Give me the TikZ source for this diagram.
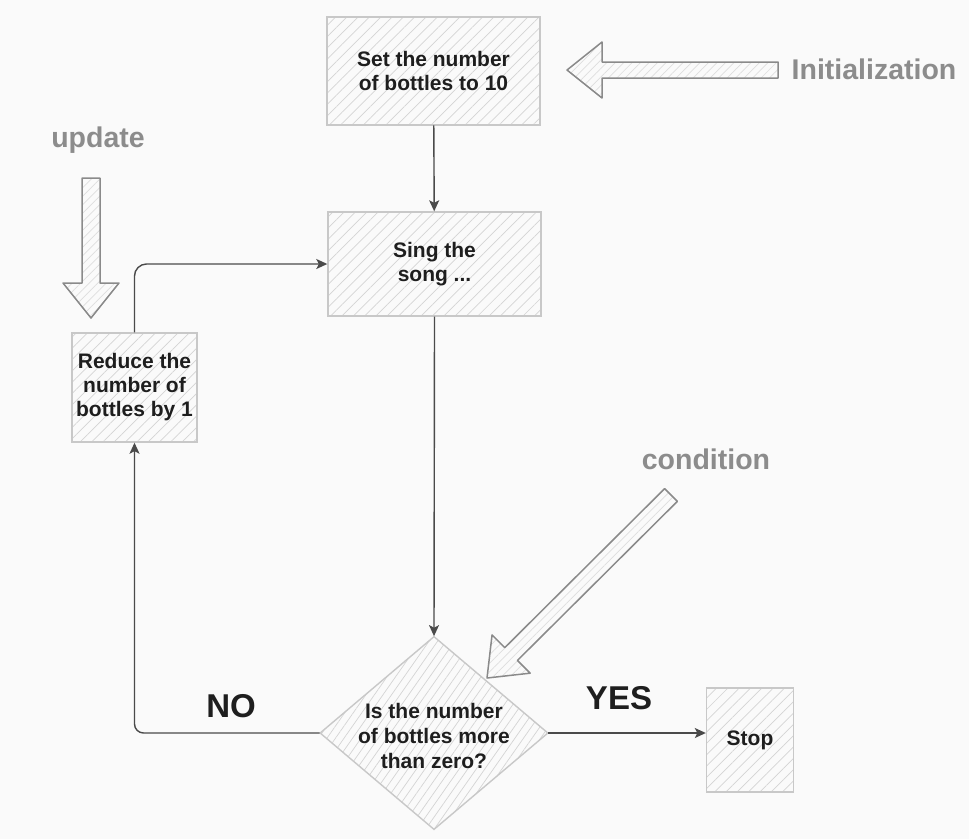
\documentclass[tikz,border=0pt]{standalone}
\usepackage{fontspec}
\setmainfont{Liberation Sans}
\usetikzlibrary{arrows.meta,shapes.geometric,patterns.meta,calc}
\definecolor{bg}{HTML}{FAFAFA}
\definecolor{boxline}{HTML}{C8C8C8}
\definecolor{hatch}{HTML}{D4D4D4}
\definecolor{connc}{HTML}{4A4A4A}
\definecolor{labgray}{HTML}{8C8C8C}
\definecolor{bigline}{HTML}{8A8A8A}
\definecolor{bighatch}{HTML}{DEDEDE}
\definecolor{txt}{HTML}{1E1E1E}
% #1 tail, #2 tip, #3 head length, #4 head half width, #5 shaft half width
\newcommand{\bigarrow}[5]{%
  \path ($(#2)!#3!(#1)$) coordinate (hb)
        ($(hb)!#4!90:(#2)$) coordinate (h1)
        ($(hb)!#4!-90:(#2)$) coordinate (h2)
        ($(hb)!#5!90:(#2)$) coordinate (s1)
        ($(hb)!#5!-90:(#2)$) coordinate (s2)
        ($(#1)!#5!90:(#2)$) coordinate (t1)
        ($(#1)!#5!-90:(#2)$) coordinate (t2);
  \draw[blockarrow] (t1) -- (s1) -- (h1) -- (#2) -- (h2) -- (s2) -- (t2) -- cycle;
}
\begin{document}
\begin{tikzpicture}[x=1pt,y=-1pt,
  stepbox/.style={draw=boxline, line width=1.4pt,
    pattern={Lines[angle=45,distance=8pt,line width=0.7pt]}, pattern color=hatch,
    align=center, text=txt, font=\bfseries\fontsize{21}{24}\selectfont, inner sep=0pt},
  decision/.style={diamond, draw=boxline, line width=1.4pt,
    pattern={Lines[angle=55,distance=7pt,line width=0.7pt]}, pattern color=hatch,
    inner sep=0pt, minimum width=228pt, minimum height=193pt},
  boxtext/.style={align=center, text=txt, font=\bfseries\fontsize{21}{25}\selectfont, inner sep=0pt},
  bigtxt/.style={text=txt, font=\bfseries\fontsize{33}{36}\selectfont, inner sep=0pt},
  graylab/.style={text=labgray, font=\bfseries\fontsize{28.5}{31}\selectfont, inner sep=0pt},
  conn/.style={draw=connc, line width=1.4pt, -{Stealth[length=11pt,width=10pt,inset=2.5pt]}},
  blockarrow/.style={draw=bigline, line width=1.5pt, line join=round,
    pattern={Lines[angle=45,distance=6pt,line width=0.7pt]}, pattern color=bighatch}
]
\fill[bg] (0,0) rectangle (969,839);
\useasboundingbox (0,0) rectangle (969,839);

% process nodes
\node[stepbox, minimum width=213pt, minimum height=108pt] (init) at (433.5,71) {Set the number\\of bottles to 10};
\node[stepbox, minimum width=213pt, minimum height=104pt] (sing) at (434.5,264) {Sing the\\song ...};
\node[stepbox, minimum width=125pt, minimum height=109pt] (reduce) at (134.5,387.5) {Reduce the\\number of\\bottles by 1};
\node[decision] (q) at (434,733) {};
\node[boxtext] (qtext) at (434,736) {Is the number\\of bottles more\\than zero?};
\node[stepbox, minimum width=87pt, minimum height=104pt] (stop) at (750,740) {Stop};

% connectors
\draw[conn] (init) -- (sing);
\draw[conn] (sing.south) -- (q.north);
\draw[conn] (q.east) -- (q.east -| stop.west);
\draw[conn, rounded corners=9pt] (q.west) -| (reduce.south);
\draw[conn, rounded corners=12pt] (reduce.north) |- (sing.west);

% branch labels
\node[bigtxt] (no) at (231,706) {NO};
\node[bigtxt] (yes) at (619,698) {YES};

% annotation labels
\node[graylab] (linit) at (874,69) {Initialization};
\node[graylab] (lupd) at (98,140) {update};
\node[graylab] (lcond) at (706,459) {condition};

% block arrows
\coordinate (ia1) at (778,70);  \coordinate (ia2) at (567,70);
\coordinate (ua1) at (91,178);  \coordinate (ua2) at (91,318);
\coordinate (ca1) at (671,495); \coordinate (ca2) at (487,678);
\bigarrow{ia1}{ia2}{35pt}{28pt}{8pt}
\bigarrow{ua1}{ua2}{35pt}{28pt}{9pt}
\bigarrow{ca1}{ca2}{34pt}{27pt}{9pt}
\end{tikzpicture}
\end{document}
